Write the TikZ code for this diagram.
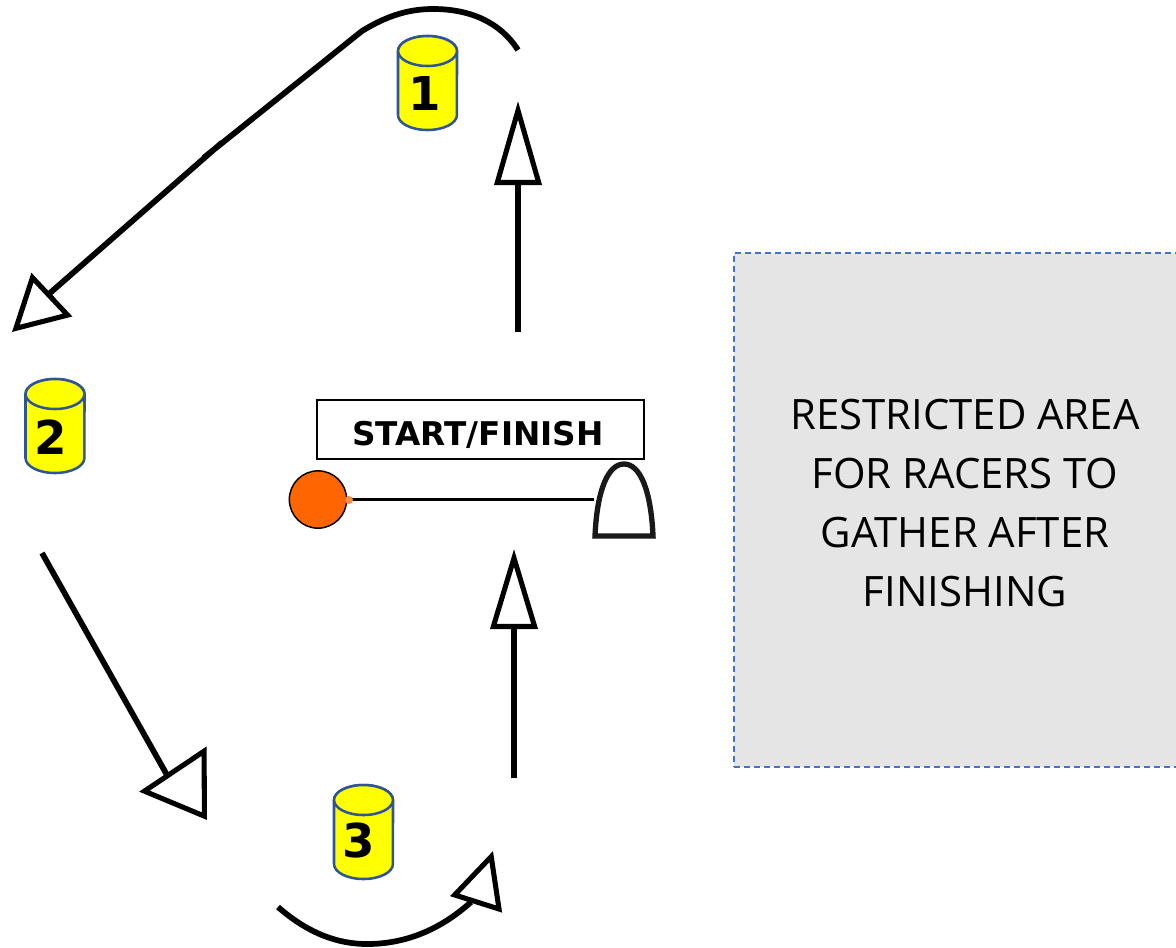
\documentclass[tikz,border=0pt]{standalone}
\usepackage{fontspec}
\setmainfont{Carlito}
\newfontfamily\signfont{DejaVu Sans}
\newfontfamily\areafont{Open Sans}
\usetikzlibrary{arrows.meta}
\definecolor{conefill}{HTML}{FFFF00}
\definecolor{coneline}{HTML}{2F5597}
\definecolor{ballfill}{HTML}{FF6600}
\definecolor{areafill}{HTML}{E5E5E5}
\definecolor{arealine}{HTML}{4472C4}
\tikzset{
  x=0.75pt,y=-0.75pt,
  conebody/.pic={
    \draw[draw=coneline,fill=conefill,line width=1.9pt]
      (-29.5,-32) -- (-29.5,32) arc[start angle=180,end angle=360,x radius=22.1pt,y radius=11.25pt] -- (29.5,-32)
      arc[start angle=0,end angle=180,x radius=22.1pt,y radius=11.25pt];
    \draw[draw=coneline,fill=conefill,line width=1.9pt] (0,-32) ellipse[x radius=22.1pt,y radius=11.25pt];
  },
  conenum/.style={font=\signfont\fontsize{35}{35}\selectfont\bfseries,inner sep=0pt},
  route/.style={draw=black,line width=4.3pt,line join=miter,miter limit=10},
  upa/.style={route,-{Triangle[open,fill=white,length=60pt,width=35pt,line width=3.8pt]}},
  upb/.style={route,-{Triangle[open,fill=white,length=63pt,width=35pt,line width=3.8pt]}},
  diaga/.style={route,-{Triangle[open,fill=white,length=41pt,width=44pt,line width=3.8pt]}},
  downa/.style={route,-{Triangle[open,fill=white,length=46pt,width=60pt,line width=3.8pt]}},
  boty/.style={route,-{Triangle[open,fill=white,length=42pt,width=40pt,line width=3.8pt]}},
}
\begin{document}
\begin{tikzpicture}
\useasboundingbox (0,0) rectangle (1176,947);
% restricted area
\node[draw=arealine,fill=areafill,dash pattern=on 4.5pt off 3pt,line width=1.5pt,minimum width=335pt,minimum height=385.5pt,
  anchor=north west,inner sep=0pt,outer sep=0pt] (area) at (733.5,253) {};
\node[font=\areafont\fontsize{31.4}{44.2}\selectfont,align=center,inner sep=0pt] (areatext) at (965,503)
  {RESTRICTED AREA\\FOR RACERS TO\\GATHER AFTER\\FINISHING};
% cones
\pic at (427.5,83) {conebody};
\node[conenum] (n1) at (425,93) {1};
\pic at (55,426) {conebody};
\node[conenum] (n2) at (51,437) {2};
\pic at (363.5,832) {conebody};
\node[conenum] (n3) at (359,840) {3};
% route coordinates
\coordinate (a1s) at (518,332);
\coordinate (a1e) at (518,101);
\coordinate (a2s) at (518,50);
\coordinate (a2k) at (362,31);
\coordinate (a2m) at (204,157.5);
\coordinate (a2n) at (222,142.5);
\coordinate (a2h) at (50,293);
\coordinate (a2b) at (52,294.5);
\coordinate (a2e) at (12,332);
\coordinate (a3s) at (42,553);
\coordinate (a3h) at (167,775);
\coordinate (a3b) at (173.5,770);
\coordinate (a3e) at (207,820);
\coordinate (a4s) at (278,907);
\coordinate (a4h) at (471,902);
\coordinate (a4b) at (476.5,903);
\coordinate (a4e) at (493,851);
\coordinate (a5s) at (514,778);
\coordinate (a5e) at (514,549);
\draw[upb] (a1s) -- (a1e);
\draw[diaga] (a2s) .. controls (500,22) and (470,9) .. (433,9) .. controls (410,9) and (388,15) .. (a2k) -- (a2m) (a2n) -- (a2h) (a2b) -- (a2e);
\draw[downa] (a3s) -- (a3h) (a3b) -- (a3e);
\draw[boty] (a4s) .. controls (310,935) and (340,944) .. (367,944) .. controls (405,944) and (440,930) .. (a4h) (a4b) -- (a4e);
\draw[upa] (a5s) -- (a5e);
% start / finish
\node[draw=black,fill=white,line width=1.1pt,minimum width=245pt,minimum height=44pt,inner sep=0pt,outer sep=0pt] (sign) at (480.5,429.5) {};
\node[font=\signfont\fontsize{24.5}{24.5}\selectfont\bfseries,inner sep=0pt] (signtext) at (478,435) {START/FINISH};
\node[circle,draw=black,fill=ballfill,line width=1.1pt,minimum size=43pt,inner sep=0pt,outer sep=0pt] (ball) at (318,499.5) {};
\coordinate (gateleft) at (594,499.5);
\draw[black,line width=1.6pt] (ball) -- (gateleft);
\fill[ballfill!75] (349,500) circle[radius=4];
\draw[black!90,line width=4pt,line join=miter] (595,536) .. controls (597,490) and (608,464) .. (624,464) .. controls (640,464) and (651,490) .. (653,536) -- cycle;
\end{tikzpicture}
\end{document}
